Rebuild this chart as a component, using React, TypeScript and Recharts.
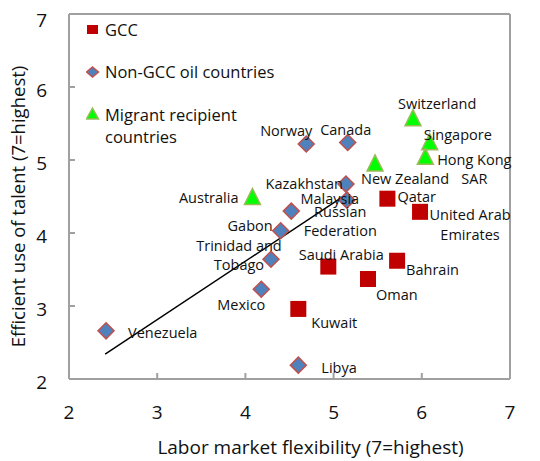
import { ScatterChart, Scatter, XAxis, YAxis, ReferenceLine, Legend, Label } from "recharts"

// GCC countries
const gccNames = ["Qatar", "United Arab Emirates", "Saudi Arabia", "Oman", "Bahrain", "Kuwait"]
const gccFlex = [5.61, 5.98, 4.94, 5.39, 5.72, 4.6]
const gccTalent = [4.47, 4.29, 3.54, 3.37, 3.62, 2.96]

// Non-GCC oil countries
const oilNames = ["Libya", "Venezuela", "Mexico", "Trinidad and Tobago", "Gabon", "Russian Federation", "Malaysia", "Kazakhstan", "Norway", "Canada"]
const oilFlex = [4.6, 2.42, 4.18, 4.29, 4.4, 4.52, 5.15, 5.14, 4.69, 5.16]
const oilTalent = [2.19, 2.66, 3.23, 3.64, 4.03, 4.3, 4.45, 4.67, 5.22, 5.24]

// Migrant recipient countries
const migNames = ["Australia", "Switzerland", "Singapore", "Hong Kong SAR", "New Zealand"]
const migFlex = [4.08, 5.9, 6.09, 6.04, 5.47]
const migTalent = [4.5, 5.58, 5.25, 5.05, 4.96]

// trend line ends
const trendFlex = [2.41, 5.17]
const trendTalent = [2.34, 4.55]

const xTicks = [2, 3, 4, 5, 6, 7]
const yTicks = [2, 3, 4, 5, 6, 7]

const toRows = (names: string[], xs: number[], ys: number[]) =>
  names.map((name, i) => ({ name, x: xs[i], y: ys[i] }))

const gcc = toRows(gccNames, gccFlex, gccTalent)
const oil = toRows(oilNames, oilFlex, oilTalent)
const migrants = toRows(migNames, migFlex, migTalent)
const allPoints = [...gcc, ...oil, ...migrants]

const FONT = "'Open Sans', 'Noto Sans', sans-serif"
const AXIS = "#a0a0a0"
const TEXT = "#111"

// where each data label sits relative to its marker
const labelPos: Record<string, { dx: number; dy: number; anchor: string; lines: string[]; lh?: number }> = {
  Qatar: { dx: 10, dy: -2, anchor: "start", lines: ["Qatar"] },
  "United Arab Emirates": { dx: 50, dy: 3, anchor: "middle", lines: ["United Arab", "Emirates"], lh: 20 },
  "Saudi Arabia": { dx: 13, dy: -12, anchor: "middle", lines: ["Saudi Arabia"] },
  Oman: { dx: 8, dy: 16, anchor: "start", lines: ["Oman"] },
  Bahrain: { dx: 9, dy: 9, anchor: "start", lines: ["Bahrain"] },
  Kuwait: { dx: 13, dy: 14, anchor: "start", lines: ["Kuwait"] },
  Libya: { dx: 23, dy: 3, anchor: "start", lines: ["Libya"] },
  Venezuela: { dx: 22, dy: 2, anchor: "start", lines: ["Venezuela"] },
  Mexico: { dx: -20, dy: 16, anchor: "middle", lines: ["Mexico"] },
  "Trinidad and Tobago": { dx: -32, dy: -13, anchor: "middle", lines: ["Trinidad and", "Tobago"], lh: 19 },
  Gabon: { dx: -8, dy: -5, anchor: "end", lines: ["Gabon"] },
  "Russian Federation": { dx: 49, dy: 1, anchor: "middle", lines: ["Russian", "Federation"], lh: 19 },
  Malaysia: { dx: -17, dy: -1, anchor: "middle", lines: ["Malaysia"] },
  Kazakhstan: { dx: -3, dy: 0, anchor: "end", lines: ["Kazakhstan"] },
  Norway: { dx: 6, dy: -13, anchor: "end", lines: ["Norway"] },
  Canada: { dx: -2, dy: -13, anchor: "middle", lines: ["Canada"] },
  Australia: { dx: -14, dy: 1, anchor: "end", lines: ["Australia"] },
  Switzerland: { dx: -15, dy: -14, anchor: "start", lines: ["Switzerland"] },
  Singapore: { dx: -6, dy: -7, anchor: "start", lines: ["Singapore"] },
  "Hong Kong SAR": { dx: 49, dy: 4, anchor: "middle", lines: ["Hong Kong", "SAR"], lh: 19 },
  "New Zealand": { dx: -14, dy: 16, anchor: "start", lines: ["New Zealand"] },
}

const SquareMark = (p: any) => <rect x={p.cx - 8} y={p.cy - 8} width={16} height={16} fill="#c00000" />

const DiamondMark = (p: any) => (
  <polygon
    points={`${p.cx},${p.cy - 8} ${p.cx + 8},${p.cy} ${p.cx},${p.cy + 8} ${p.cx - 8},${p.cy}`}
    fill="#4f81bd"
    stroke="#c0504d"
    strokeWidth={1.5}
  />
)

const TriangleMark = (p: any) => (
  <polygon
    points={`${p.cx},${p.cy - 8} ${p.cx + 8},${p.cy + 8} ${p.cx - 8},${p.cy + 8}`}
    fill="#00ff00"
    stroke="#9bbb59"
    strokeWidth={1.5}
  />
)

const PointLabel = (p: any) => {
  const l = labelPos[p.payload?.name]
  if (!l) return <g />
  const x = p.cx + l.dx
  return (
    <text x={x} y={p.cy + l.dy} textAnchor={l.anchor} fontSize={14.5} fontFamily={FONT} fill={TEXT}>
      {l.lines.map((s, i) => (
        <tspan key={i} x={x} dy={i === 0 ? "0.35em" : l.lh}>
          {s}
        </tspan>
      ))}
    </text>
  )
}

const LeftTick = (p: any) => (
  <text x={p.x} y={p.y} dy={10} textAnchor="end" fontSize={19} fontFamily={FONT} fill={TEXT}>
    {p.payload.value}
  </text>
)
const RightTick = (p: any) => (
  <text x={p.x} y={p.y} dy={10} textAnchor="start" fontSize={19} fontFamily={FONT} fill={TEXT}>
    {p.payload.value}
  </text>
)
const BottomTick = (p: any) => (
  <text x={p.x} y={p.y} dy={16} textAnchor="middle" fontSize={19} fontFamily={FONT} fill={TEXT}>
    {p.payload.value}
  </text>
)

const LegendBox = () => (
  <svg width={220} height={130} style={{ display: "block" }}>
    <rect x={1} y={5} width={11} height={9} fill="#c00000" />
    <text x={19} y={10} dy="0.35em" fontSize={16.5} fontFamily={FONT} fill={TEXT}>GCC</text>
    <polygon points="6.5,47 12.5,52 6.5,57 0.5,52" fill="#4f81bd" stroke="#c0504d" strokeWidth={1.5} />
    <text x={19} y={52} dy="0.35em" fontSize={16.5} fontFamily={FONT} fill={TEXT}>Non-GCC oil countries</text>
    <polygon points="6.5,88 12.5,99 0.5,99" fill="#00ff00" stroke="#9bbb59" strokeWidth={1.5} />
    <text x={19} y={95} dy="0.35em" fontSize={16.5} fontFamily={FONT} fill={TEXT}>Migrant recipient</text>
    <text x={19} y={117} dy="0.35em" fontSize={16.5} fontFamily={FONT} fill={TEXT}>countries</text>
  </svg>
)

export default function App() {
  return (
    <ScatterChart width={532} height={453} margin={{ top: 6, right: 0, bottom: 0, left: 0 }}>
      <XAxis
        type="number"
        dataKey="x"
        domain={[2, 7]}
        ticks={xTicks}
        height={82}
        axisLine={{ stroke: AXIS, strokeWidth: 2 }}
        tickLine={{ stroke: AXIS, strokeWidth: 2 }}
        tickSize={-6}
        tickMargin={30}
        tick={<BottomTick />}
      >
        <Label
          content={(p: any) => (
            <text
              x={p.viewBox.x + p.viewBox.width / 2 + 21}
              y={p.viewBox.y + 68}
              dy="0.35em"
              textAnchor="middle"
              fontSize={19}
              fontFamily={FONT}
              fill={TEXT}
            >
              Labor market flexibility (7=highest)
            </text>
          )}
        />
      </XAxis>
      <YAxis
        yAxisId="left"
        type="number"
        dataKey="y"
        domain={[2, 7]}
        ticks={yTicks}
        width={61}
        axisLine={{ stroke: AXIS, strokeWidth: 2 }}
        tickLine={{ stroke: AXIS, strokeWidth: 2 }}
        tickSize={-6}
        tickMargin={28}
        tick={<LeftTick />}
      >
        <Label
          content={(p: any) => {
            const cx = p.viewBox.x + 11
            const cy = p.viewBox.y + p.viewBox.height / 2 + 10
            return (
              <text
                x={cx}
                y={cy}
                dy="0.35em"
                textAnchor="middle"
                fontSize={18.5}
                fontFamily={FONT}
                fill={TEXT}
                transform={`rotate(-90 ${cx} ${cy})`}
              >
                Efficient use of talent (7=highest)
              </text>
            )
          }}
        />
      </YAxis>
      <YAxis
        yAxisId="right"
        orientation="right"
        type="number"
        domain={[2, 7]}
        ticks={yTicks}
        width={30}
        axisLine={{ stroke: AXIS, strokeWidth: 2 }}
        tickLine={{ stroke: AXIS, strokeWidth: 2 }}
        tickSize={-6}
        tickMargin={26}
        tick={<RightTick />}
      />
      <ReferenceLine yAxisId="left" y={7} stroke={AXIS} strokeWidth={2} />
      <Legend
        layout="vertical"
        align="center"
        verticalAlign="middle"
        wrapperStyle={{ left: 78, top: 12, width: 220 }}
        content={() => <LegendBox />}
      />
      <Scatter yAxisId="left" name="GCC" data={gcc} shape={SquareMark} isAnimationActive={false} />
      <Scatter yAxisId="left" name="Non-GCC oil countries" data={oil} shape={DiamondMark} isAnimationActive={false} />
      <Scatter yAxisId="left" name="Migrant recipient countries" data={migrants} shape={TriangleMark} isAnimationActive={false} />
      <ReferenceLine
        yAxisId="left"
        segment={[
          { x: trendFlex[0], y: trendTalent[0] },
          { x: trendFlex[1], y: trendTalent[1] },
        ]}
        stroke="#000"
        strokeWidth={1.5}
      />
      <Scatter yAxisId="left" data={allPoints} shape={PointLabel} legendType="none" isAnimationActive={false} />
    </ScatterChart>
  )
}
